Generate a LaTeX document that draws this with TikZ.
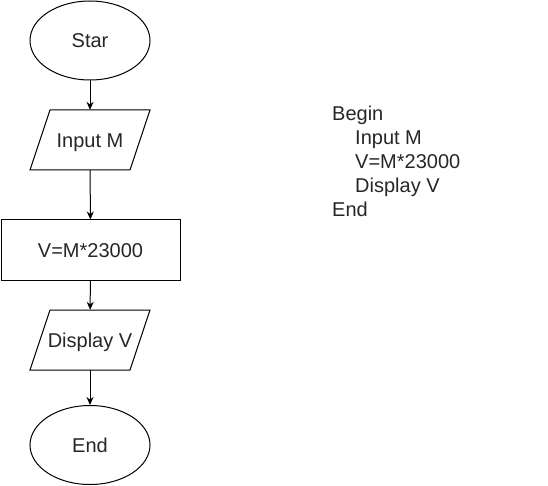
\documentclass[tikz,border=0pt]{standalone}
\usepackage{fontspec}
\setmainfont{Liberation Sans}
\usetikzlibrary{shapes.geometric,arrows.meta,calc}
\begin{document}
\begin{tikzpicture}[x=1pt,y=-1pt,
  txt/.style={inner sep=0pt,font=\fontsize{20}{24}\selectfont,text=black!85},
  base/.style={txt,draw=black,line width=1pt,text height=14.3pt,text depth=0pt},
  term/.style={base,ellipse,minimum width=120pt,minimum height=79pt},
  proc/.style={base,rectangle,minimum width=179pt,minimum height=60pt},
  io/.style={txt,rectangle,minimum width=100pt,minimum height=60pt,text height=14.3pt,text depth=0pt},
  para/.style={draw=black,line width=1pt,line join=miter},
  conn/.style={line width=1pt,-{Stealth[length=8pt,width=7pt]}}]
\useasboundingbox (0,0) rectangle (548,486);
\node[term] (start) at (90,40.5) {Star};
\node[io] (in) at (90,140) {Input M};
\draw[para] ($(in)+(-40,-30)$) -- ($(in)+(60,-30)$) -- ($(in)+(40,30)$) -- ($(in)+(-60,30)$) -- cycle;
\node[proc] (calc) at (90.5,250) {V=M*23000};
\node[io] (out) at (90,340) {Display V};
\draw[para] ($(out)+(-40,-30)$) -- ($(out)+(60,-30)$) -- ($(out)+(40,30)$) -- ($(out)+(-60,30)$) -- cycle;
\node[term] (end) at (90,445) {End};
\draw[conn] (start) -- (in);
\draw[conn] (in) -- (calc);
\draw[conn] (calc) -- (out);
\draw[conn] (out) -- (end);
\node[txt,anchor=north west,align=left] (code) at (332,106) {Begin\\\hspace*{23pt}Input M\\\hspace*{23pt}V=M*23000\\\hspace*{23pt}Display V\\End};
\end{tikzpicture}
\end{document}
